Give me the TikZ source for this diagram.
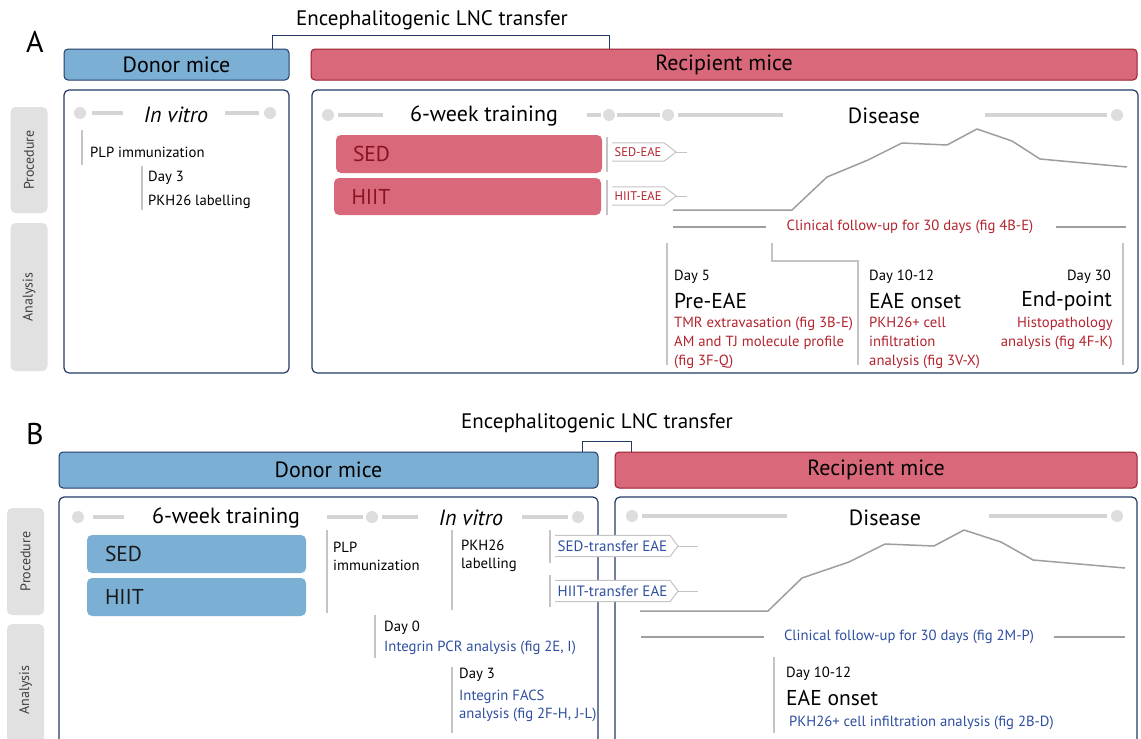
\documentclass[tikz,border=0pt]{standalone}
\usepackage{fontspec}
\setmainfont{PT Sans}
\usetikzlibrary{calc}
\definecolor{donorblue}{HTML}{7BAFD4}
\definecolor{recipred}{HTML}{D9687A}
\definecolor{navyline}{HTML}{233B66}
\definecolor{redline}{HTML}{9C1C2C}
\definecolor{tabgray}{HTML}{E1E1E1}
\definecolor{tlgray}{HTML}{D4D4D4}
\definecolor{dotgray}{HTML}{DDDDDD}
\definecolor{tickgray}{HTML}{C4C4C4}
\definecolor{curvegray}{HTML}{9E9E9E}
\definecolor{figred}{HTML}{B3242F}
\definecolor{figblue}{HTML}{2F4FA0}
\definecolor{sedred}{HTML}{8A1222}

\begin{document}
\begin{tikzpicture}[x=1pt, y=-1pt,
        hdr/.style={draw=navyline, line width=1pt, rounded corners=4pt, minimum height=31pt,
                    inner sep=0pt, font=\fontsize{22}{25}\selectfont},
        donorhdr/.style={hdr, fill=donorblue},
        reciphdr/.style={hdr, fill=recipred, draw=redline},
        panel/.style={draw=navyline, line width=1.2pt, rounded corners=5pt, fill=white, inner sep=0pt},
        sidetab/.style={fill=tabgray, rounded corners=5pt, rotate=90, minimum height=37pt,
                        inner sep=0pt, font=\fontsize{14}{16}\selectfont, text=black!75},
        phase/.style={font=\fontsize{22}{25}\selectfont, inner sep=0pt},
        stage/.style={font=\fontsize{21.5}{24}\selectfont, inner sep=0pt},
        small/.style={font=\fontsize{14.7}{18}\selectfont, inner sep=0pt, align=left},
        figtext/.style={font=\fontsize{14.7}{19}\selectfont, inner sep=0pt, align=left},
        bar/.style={rounded corners=5pt, inner ysep=0pt, align=left, anchor=center,
                    font=\fontsize{21.5}{24}\selectfont},
        redbar/.style={bar, fill=recipred, text=sedred},
        bluebar/.style={bar, fill=donorblue, text=black!90},
        tagtext/.style={font=\fontsize{12.5}{14}\selectfont, inner xsep=2.5pt, inner ysep=0pt,
                        minimum height=18pt, fill=white, anchor=west},
        tagline/.style={draw=tickgray, line width=1pt},
        bracket/.style={draw=navyline, line width=1pt},
        tline/.style={draw=tlgray, line width=4pt},
        tdot/.style={fill=dotgray},
        tick/.style={draw=tickgray, line width=1.6pt},
        curve/.style={draw=curvegray, line width=1.5pt, line join=round},
        follow/.style={draw=curvegray, line width=1.1pt}
      ]
        \clip (0,0) rectangle (1141,739);

        % ---------- A ----------
        \node[font=\fontsize{30}{34}\selectfont, inner sep=0pt] (labA) at (35,42) {A};
        \node[font=\fontsize{21}{25}\selectfont, inner sep=0pt] (lncA) at (432,20) {Encephalitogenic LNC transfer};

        \node[donorhdr, minimum width=225pt] (donorA) at (176.5,64.5) {Donor mice};
        \node[reciphdr, minimum width=826pt] (recipA) at (724,64.5) {Recipient mice};
        \draw[bracket] ([xshift=-17pt]donorA.north east) -- ++(0,-13) -| ([xshift=299pt]recipA.north west);

        \node[panel, minimum width=225pt, minimum height=283pt] (donorApanel) at (176.5,231.5) {};
        \node[panel, minimum width=826pt, minimum height=283pt] (recipApanel) at (725,231.5) {};

        \node[sidetab, minimum width=106pt] (procA) at (29,160) {Procedure};
        \node[sidetab, minimum width=148pt] (anaA) at (29,297) {Analysis};

        % donor, in vitro
        \fill[tdot] (80,113) circle (6pt);
        \draw[tline] (92,113) -- (123,113);
        \node[phase] (vitroA) at (176,115) {\itshape In vitro};
        \draw[tline] (225,113) -- (259,113);
        \fill[tdot] (270,113) circle (6pt);

        \draw[tick] (82,130) -- (82,165);
        \node[small, anchor=west] (plpA) at (90,152) {PLP immunization};
        \draw[tick] (142,166) -- (142,210);
        \node[small, anchor=west] (day3A) at (148,178) {Day 3};
        \node[small, anchor=west] (pkhA) at (148,202) {PKH26 labelling};

        % recipient, training and disease
        \fill[tdot] (328,115) circle (6pt);
        \draw[tline] (338,115) -- (383,115);
        \node[phase] (trainA) at (484,116) {6-week training};
        \draw[tline] (587,115) -- (601,115);
        \fill[tdot] (609,115) circle (6pt);
        \draw[tline] (617,115) -- (660,115);
        \fill[tdot] (668,115) circle (6pt);
        \draw[tline] (678,115) -- (783,115);
        \node[phase] (diseaseA) at (884,116) {Disease};
        \draw[tline] (985,115) -- (1107,115);
        \fill[tdot] (1117,115) circle (6pt);

        \node[redbar, minimum width=266pt, minimum height=38pt, text width=232pt] (sedA) at (469,154) {SED};
        \node[redbar, minimum width=267pt, minimum height=37pt, text width=232pt] (hiitA) at (467.5,196.5) {HIIT};

        \draw[tick] (607,137) -- (607,172);
        \draw[tick] (607,180) -- (607,215);
        \node[tagtext, text=figred] (sedtagA) at (612,152) {SED-EAE};
        \draw[tagline] (sedtagA.north west) -- (sedtagA.north east) -- ([xshift=12pt]sedtagA.east)
          -- (sedtagA.south east) -- (sedtagA.south west);
        \draw[tagline] ([xshift=12pt]sedtagA.east) -- ++(11,0);
        \node[tagtext, text=figred] (hiittagA) at (612,196) {HIIT-EAE};
        \draw[tagline] (hiittagA.north west) -- (hiittagA.north east) -- ([xshift=12pt]hiittagA.east)
          -- (hiittagA.south east) -- (hiittagA.south west);
        \draw[tagline] ([xshift=12pt]hiittagA.east) -- ++(11,0);

        \draw[curve] (673,210) -- (792,210) -- (827,177) -- (868,160) -- (902,143) -- (947,145)
          -- (977,129) -- (1012,141) -- (1040,159) -- (1127,167);

        \draw[follow] (673,227) -- (766,227);
        \node[small, text=figred] (clinA) at (910,227) {Clinical follow-up for 30 days (fig 4B-E)};
        \draw[follow] (1056,227) -- (1126,227);

        \draw[tick] (667,243) -- (667,365);
        \draw[tick] (772,243) -- (772,261) -- (858,261) -- (858,365);
        \draw[tick] (1123,243) -- (1123,365);

        \node[small, anchor=west] (day5A) at (674,277) {Day 5};
        \node[stage, anchor=west] (preA) at (674,301) {Pre-EAE};
        \node[figtext, anchor=west, text=figred] (prefigA) at (674,343) {TMR extravasation (fig 3B-E)\\AM and TJ molecule profile\\(fig 3F-Q)};
        \node[small, anchor=west] (day10A) at (869,277) {Day 10-12};
        \node[stage, anchor=west] (onsetA) at (869,301) {EAE onset};
        \node[figtext, anchor=west, text=figred] (onsetfigA) at (869,343) {PKH26+ cell\\infiltration\\analysis (fig 3V-X)};
        \node[small, anchor=east] (day30A) at (1111,277) {Day 30};
        \node[stage, anchor=east] (endA) at (1112,301) {End-point};
        \node[figtext, anchor=east, align=right, text=figred] (endfigA) at (1113,333) {Histopathology\\analysis (fig 4F-K)};

        % ---------- B ----------
        \node[font=\fontsize{30}{34}\selectfont, inner sep=0pt] (labB) at (35,434) {B};
        \node[font=\fontsize{21}{25}\selectfont, inner sep=0pt] (lncB) at (597,423) {Encephalitogenic LNC transfer};

        \node[donorhdr, minimum width=539pt, minimum height=36pt] (donorB) at (328.5,470) {Donor mice};
        \node[reciphdr, minimum width=522pt, minimum height=36pt] (recipB) at (876,470) {Recipient mice};
        \draw[bracket] ([xshift=-16pt]donorB.north east) -- ++(0,-10) -| ([xshift=17pt]recipB.north west);

        \node[panel, minimum width=539pt, minimum height=263pt] (donorBpanel) at (328.5,628.5) {};
        \node[panel, minimum width=522pt, minimum height=263pt] (recipBpanel) at (876,628.5) {};

        \node[sidetab, minimum width=107pt] (procB) at (25.5,561.5) {Procedure};
        \node[sidetab, minimum width=132pt] (anaB) at (25.5,690) {Analysis};

        % donor, training and in vitro
        \fill[tdot] (78,517) circle (6pt);
        \draw[tline] (93,517) -- (124,517);
        \node[phase] (trainB) at (226,518) {6-week training};
        \draw[tline] (327,517) -- (363,517);
        \fill[tdot] (372,517) circle (6pt);
        \draw[tline] (382,517) -- (418,517);
        \node[phase] (vitroB) at (471,518) {\itshape In vitro};
        \draw[tline] (522,517) -- (568,517);
        \fill[tdot] (578,517) circle (6pt);

        \node[bluebar, minimum width=219pt, minimum height=38pt, text width=183pt] (sedB) at (196.5,554) {SED};
        \node[bluebar, minimum width=219pt, minimum height=38pt, text width=183pt] (hiitB) at (196.5,597) {HIIT};

        \draw[tick] (327,530) -- (327,613);
        \node[small, anchor=west] (plpB) at (333,556) {PLP\\immunization};
        \draw[tick] (452,530) -- (452,610);
        \node[small, anchor=west] (pkhB) at (461,556) {PKH26\\labelling};

        \draw[tick] (375,615) -- (375,658);
        \node[small, anchor=west] (day0B) at (384,628) {Day 0};
        \node[small, anchor=west, text=figblue] (pcrB) at (384,648) {Integrin PCR analysis (fig 2E, I)};
        \draw[tick] (452,667) -- (452,733);
        \node[small, anchor=west] (day3B) at (459,675) {Day 3};
        \node[small, anchor=west, text=figblue] (facsB) at (459,706) {Integrin FACS\\analysis (fig 2F-H, J-L)};

        % recipient, disease
        \fill[tdot] (632,516) circle (6pt);
        \draw[tline] (642,516) -- (787,516);
        \node[phase] (diseaseB) at (885,518) {Disease};
        \draw[tline] (989,516) -- (1107,516);
        \fill[tdot] (1117,516) circle (6pt);

        \draw[tick] (550,530) -- (550,563);
        \draw[tick] (550,575) -- (550,607);
        \node[tagtext, font=\fontsize{15}{17}\selectfont, minimum height=21pt, text=figblue] (sedtagB) at (555,546) {SED-transfer EAE};
        \draw[tagline] (sedtagB.north west) -- (sedtagB.north east) -- ([xshift=8pt]sedtagB.east)
          -- (sedtagB.south east) -- (sedtagB.south west);
        \draw[tagline] ([xshift=8pt]sedtagB.east) -- ++(20,0);
        \node[tagtext, font=\fontsize{15}{17}\selectfont, minimum height=21pt, text=figblue] (hiittagB) at (555,591) {HIIT-transfer EAE};
        \draw[tagline] (hiittagB.north west) -- (hiittagB.north east) -- ([xshift=8pt]hiittagB.east)
          -- (hiittagB.south east) -- (hiittagB.south west);
        \draw[tagline] ([xshift=8pt]hiittagB.east) -- ++(20,0);

        \draw[curve] (640,611) -- (768,611) -- (802,578) -- (849,562) -- (885,544) -- (934,546)
          -- (964,530) -- (1001,542) -- (1033,560) -- (1125,568);

        \draw[follow] (641,637) -- (764,637);
        \node[small, text=figblue] (clinB) at (909,637) {Clinical follow-up for 30 days (fig 2M-P)};
        \draw[follow] (1054,637) -- (1125,637);

        \draw[tick] (774,657) -- (774,733);
        \node[small, anchor=west] (day10B) at (786,674) {Day 10-12};
        \node[stage, anchor=west] (onsetB) at (786,698) {EAE onset};
        \node[small, anchor=west, text=figblue] (onsetfigB) at (789,723) {PKH26+ cell infiltration analysis (fig 2B-D)};
      \end{tikzpicture}
\end{document}
